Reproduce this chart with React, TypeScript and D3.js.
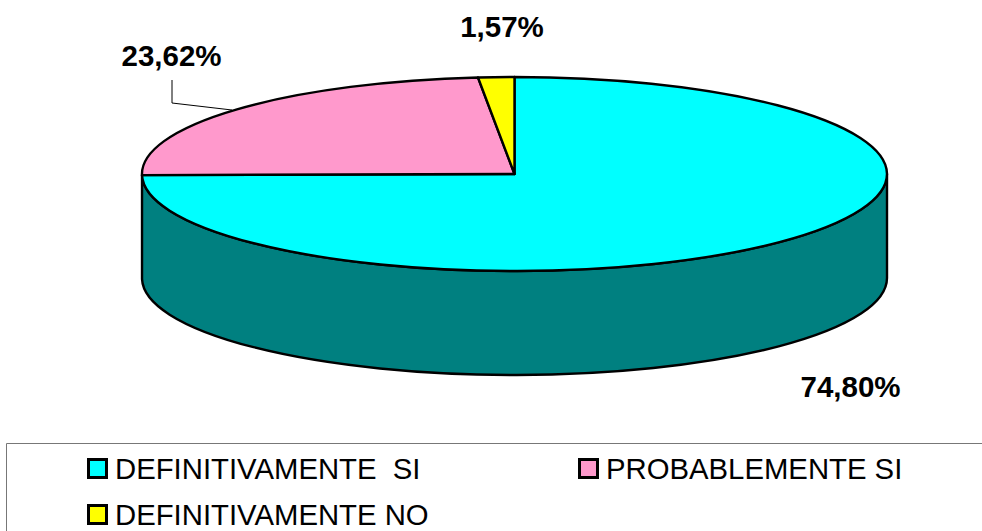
import React from "react";
import * as d3 from "d3";

const categories = ["DEFINITIVAMENTE  SI", "PROBABLEMENTE SI", "DEFINITIVAMENTE NO"];
const values = [74.8, 23.62, 1.57];
const valueLabels = ["74,80%", "23,62%", "1,57%"];
const colors = ["#00FFFF", "#FF99CC", "#FFFF00"];
const sideColor = "#008080";

const W = 982, H = 531;
const cx = 514.5, cy = 174, rx = 372.5, ry = 97, depth = 104;

const labelPos = [
  { x: 850.5, y: 397 },
  { x: 171.5, y: 66 },
  { x: 502, y: 37 },
];
const legendPos = [
  { x: 88.5, y: 479 },
  { x: 579.5, y: 479 },
  { x: 88.5, y: 525 },
];

export default function App() {
  const arcs = d3.pie<number>().sort(null)(values);
  const arc = d3.arc<d3.PieArcDatum<number>>().innerRadius(0).outerRadius(1);
  const px = (a: number) => cx + rx * Math.sin(a);
  const py = (a: number) => cy - ry * Math.cos(a);
  const a0 = Math.PI / 2;
  const a1 = Math.min(arcs[0].endAngle, (3 * Math.PI) / 2);
  const side = `M${px(a0)},${py(a0)} A${rx},${ry} 0 0 1 ${px(a1)},${py(a1)} L${px(a1)},${py(a1) + depth} A${rx},${ry} 0 0 0 ${px(a0)},${py(a0) + depth} Z`;
  return (
    <svg width={W} height={H} style={{ position: "absolute", left: 0, top: 0, background: "#fff" }} fontFamily="'Liberation Sans', Arial, sans-serif">
      <path d={side} fill={sideColor} stroke="#000" strokeWidth={2.4} strokeLinejoin="round" />
      <g transform={`translate(${cx},${cy}) scale(${rx},${ry})`}>
        {arcs.map((d, i) => (
          <path key={i} d={arc(d) as string} fill={colors[i]} stroke="#000" strokeWidth={2.4} strokeLinejoin="round" vectorEffect="non-scaling-stroke" />
        ))}
      </g>
      <polyline points="172,80 172,103 232,110" fill="none" stroke="#000" strokeWidth={1} />
      {valueLabels.map((t, i) => (
        <text key={i} x={labelPos[i].x} y={labelPos[i].y} textAnchor="middle" fontWeight="bold" fontSize={29.5} fill="#000">{t}</text>
      ))}
      <polyline points="6.5,531 6.5,443.5 982,443.5" fill="none" stroke="#777" strokeWidth={1} />
      {categories.map((t, i) => (
        <g key={i}>
          <rect x={legendPos[i].x} y={legendPos[i].y - 19.5} width={18} height={18} fill={colors[i]} stroke="#000" strokeWidth={3} />
          <text x={legendPos[i].x + 26.5} y={legendPos[i].y} fontSize={29.3} fill="#000" style={{ whiteSpace: "pre" }}>{t}</text>
        </g>
      ))}
    </svg>
  );
}
